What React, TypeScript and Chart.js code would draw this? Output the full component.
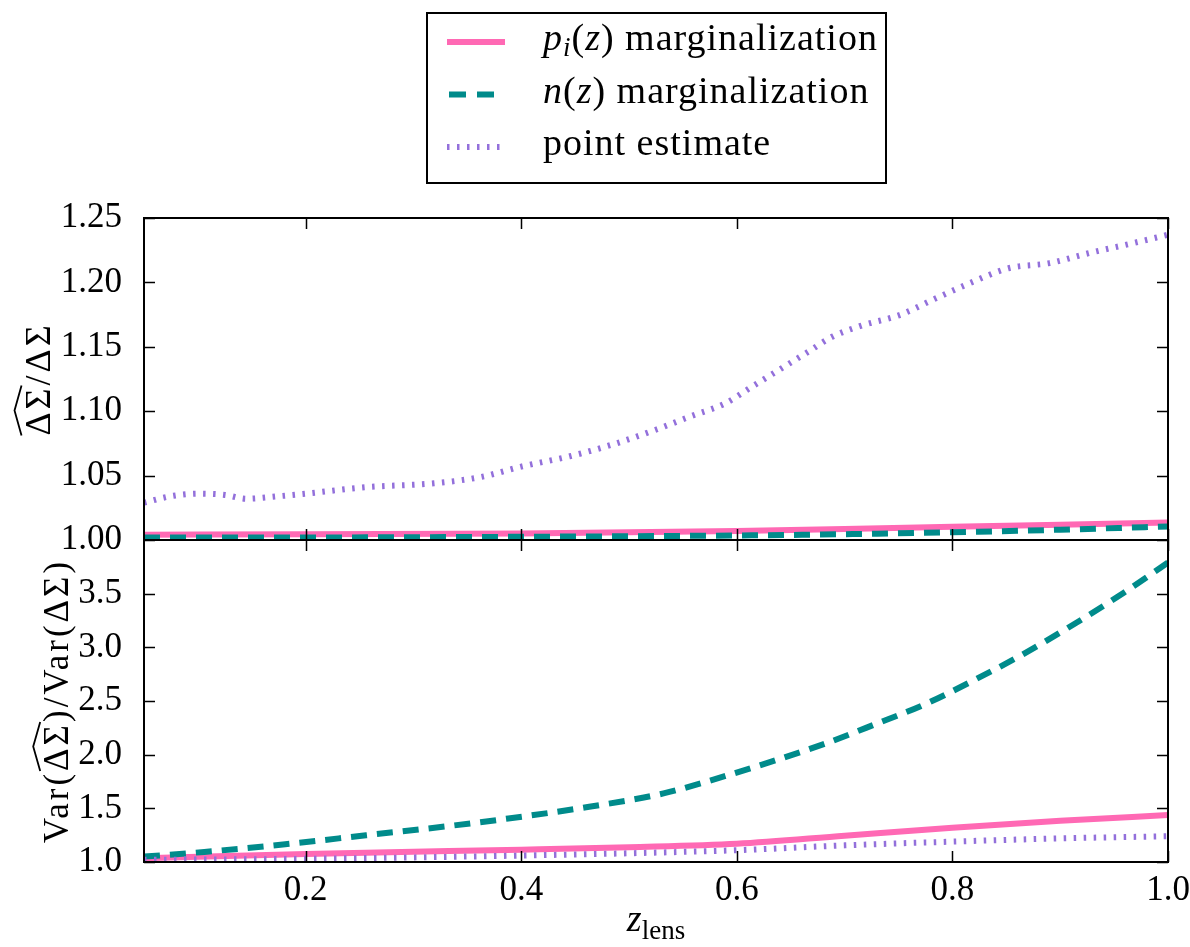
import React, { useEffect, useRef } from 'react';
import { Chart, registerables } from 'chart.js';

Chart.register(...registerables);

// ---------- data ----------
const X_TICKS = [0.2, 0.4, 0.6, 0.8, 1.0];
const TOP_Y_TICKS = [1.0, 1.05, 1.1, 1.15, 1.2, 1.25];
const BOTTOM_Y_TICKS = [1.0, 1.5, 2.0, 2.5, 3.0, 3.5];

// top panel: point estimate (dotted)
const TOP_POINT_Z = [0.05, 0.075, 0.1, 0.125, 0.145, 0.175, 0.2, 0.256, 0.319, 0.363, 0.4, 0.445, 0.488, 0.526, 0.557, 0.589, 0.614, 0.639, 0.664, 0.689, 0.714, 0.752, 0.783, 0.815, 0.852, 0.89, 0.928, 0.965, 1.0];
const TOP_POINT_RATIO = [1.029, 1.034, 1.036, 1.035, 1.032, 1.034, 1.036, 1.041, 1.044, 1.049, 1.057, 1.065, 1.075, 1.086, 1.096, 1.106, 1.119, 1.132, 1.145, 1.158, 1.166, 1.175, 1.187, 1.199, 1.211, 1.215, 1.223, 1.23, 1.237];
// top panel: marginalizations
const TOP_MARG_Z = [0.05, 0.2, 0.4, 0.6, 0.7, 0.8, 0.9, 1.0];
const TOP_PI_RATIO = [1.004, 1.0045, 1.005, 1.007, 1.0085, 1.0102, 1.0118, 1.0135];
const TOP_NZ_RATIO = [1.002, 1.002, 1.0025, 1.0035, 1.0045, 1.006, 1.008, 1.0105];

// bottom panel: variance ratios
const VAR_NZ_Z = [0.05, 0.106, 0.181, 0.256, 0.332, 0.388, 0.463, 0.532, 0.582, 0.632, 0.683, 0.727, 0.777, 0.821, 0.865, 0.915, 0.959, 1.0];
const VAR_NZ = [1.05, 1.094, 1.165, 1.249, 1.334, 1.405, 1.514, 1.639, 1.779, 1.935, 2.107, 2.278, 2.481, 2.699, 2.933, 3.229, 3.509, 3.79];
const VAR_PI_Z = [0.05, 0.2, 0.3, 0.4, 0.5, 0.6, 0.7, 0.8, 0.9, 1.0];
const VAR_PI = [1.035, 1.075, 1.095, 1.115, 1.138, 1.17, 1.245, 1.32, 1.385, 1.437];
const VAR_POINT_Z = [0.05, 0.2, 0.4, 0.6, 0.7, 0.8, 0.9, 1.0];
const VAR_POINT = [1.02, 1.03, 1.06, 1.11, 1.155, 1.19, 1.22, 1.24];

// ---------- styles ----------
const FONT = '"Liberation Serif", "Times New Roman", serif';
const PINK = '#ff69b4';
const GREEN = '#008b8b';
const PURPLE = '#9370db';

const pts = (zs: number[], vs: number[]) => zs.map((z, i) => ({ x: z, y: vs[i] }));

type Run = { t: string; italic?: boolean; size: number; dy?: number; hat?: boolean };

function setFont(ctx: CanvasRenderingContext2D, r: Run) {
  ctx.font = `${r.italic ? 'italic ' : ''}${r.size}px ${FONT}`;
}
function runsWidth(ctx: CanvasRenderingContext2D, runs: Run[]) {
  let w = 0;
  for (const r of runs) { setFont(ctx, r); w += ctx.measureText(r.t).width; }
  return w;
}
function drawRuns(ctx: CanvasRenderingContext2D, runs: Run[], x: number, y: number) {
  let cx = x;
  for (const r of runs) {
    setFont(ctx, r);
    const w = ctx.measureText(r.t).width;
    ctx.fillText(r.t, cx, y + (r.dy || 0));
    if (r.hat) {
      const cap = r.size * 0.68;
      ctx.save();
      ctx.lineWidth = 1.8;
      ctx.beginPath();
      ctx.moveTo(cx, y - cap - 4);
      ctx.lineTo(cx + w / 2, y - cap - 11);
      ctx.lineTo(cx + w, y - cap - 4);
      ctx.stroke();
      ctx.restore();
    }
    cx += w;
  }
  return cx;
}

const LEGEND_ROWS: { runs: Run[]; color: string; dash: number[]; width: number; x0: number; x1: number }[] = [
  {
    runs: [
      { t: 'p', italic: true, size: 38 },
      { t: 'i', italic: true, size: 27, dy: 6 },
      { t: '(', size: 38 },
      { t: 'z', italic: true, size: 38 },
      { t: ') marginalization', size: 38 },
    ],
    color: PINK, dash: [], width: 6, x0: 447, x1: 505,
  },
  {
    runs: [
      { t: 'n', italic: true, size: 38 },
      { t: '(', size: 38 },
      { t: 'z', italic: true, size: 38 },
      { t: ') marginalization', size: 38 },
    ],
    color: GREEN, dash: [17, 11], width: 6, x0: 449, x1: 494,
  },
  {
    runs: [{ t: 'point estimate', size: 38 }],
    color: PURPLE, dash: [2.5, 7.5], width: 6, x0: 447, x1: 507,
  },
];

const decorPlugin = {
  id: 'decor',
  afterDraw(chart: any) {
    const ctx: CanvasRenderingContext2D = chart.ctx;
    const xs = chart.scales.x;
    const yT = chart.scales.yTop;
    const yB = chart.scales.yBottom;
    const L = chart.chartArea.left;
    const R = chart.chartArea.right;
    const TL = 11;
    ctx.save();
    ctx.strokeStyle = '#000';
    ctx.fillStyle = '#000';

    // inward ticks
    ctx.lineWidth = 1.5;
    const panels = [
      { s: yT, ticks: TOP_Y_TICKS },
      { s: yB, ticks: BOTTOM_Y_TICKS },
    ];
    for (const p of panels) {
      const top = p.s.top;
      const bot = p.s.bottom;
      ctx.beginPath();
      for (const v of X_TICKS) {
        const px = Math.round(xs.getPixelForValue(v)) + 0.5;
        ctx.moveTo(px, top); ctx.lineTo(px, top + TL);
        ctx.moveTo(px, bot); ctx.lineTo(px, bot - TL);
      }
      for (const v of p.ticks) {
        const py = Math.round(p.s.getPixelForValue(v)) + 0.5;
        ctx.moveTo(L, py); ctx.lineTo(L + TL, py);
        ctx.moveTo(R, py); ctx.lineTo(R - TL, py);
      }
      ctx.stroke();
    }
    // frames
    ctx.lineWidth = 2;
    for (const p of panels) {
      ctx.strokeRect(L, p.s.top, R - L, p.s.bottom - p.s.top);
    }

    // y titles
    ctx.letterSpacing = '3px';
    const yTitles: { s: any; base: number; runs: Run[] }[] = [
      { s: yT, base: 50, runs: [{ t: 'ΔΣ', size: 36, hat: true }, { t: '/ΔΣ', size: 36 }] },
      {
        s: yB, base: 68, runs: [
          { t: 'Var(', size: 35 }, { t: 'ΔΣ', size: 35, hat: true }, { t: ')/Var(ΔΣ)', size: 35 },
        ],
      },
    ];
    ctx.textAlign = 'left';
    ctx.textBaseline = 'alphabetic';
    for (const yt of yTitles) {
      const cy = (yt.s.top + yt.s.bottom) / 2;
      ctx.save();
      ctx.translate(yt.base, cy);
      ctx.rotate(-Math.PI / 2);
      const w = runsWidth(ctx, yt.runs);
      drawRuns(ctx, yt.runs, -w / 2, 0);
      ctx.restore();
    }
    ctx.letterSpacing = '0px';

    // x title
    const xRuns: Run[] = [{ t: 'z', italic: true, size: 38 }, { t: 'lens', size: 27, dy: 8 }];
    const xw = runsWidth(ctx, xRuns);
    drawRuns(ctx, xRuns, (L + R) / 2 - xw / 2, 931);

    // legend
    ctx.lineWidth = 2;
    ctx.strokeRect(427, 13, 459, 170);
    ctx.letterSpacing = '1px';
    LEGEND_ROWS.forEach((row, i) => {
      const cy = 42 + i * 52.5;
      ctx.save();
      ctx.strokeStyle = row.color;
      ctx.lineWidth = row.width;
      ctx.lineCap = 'butt';
      ctx.setLineDash(row.dash);
      ctx.beginPath();
      ctx.moveTo(row.x0, cy);
      ctx.lineTo(row.x1, cy);
      ctx.stroke();
      ctx.restore();
      drawRuns(ctx, row.runs, 543, cy + 8);
    });
    ctx.letterSpacing = '0px';
    ctx.restore();
  },
};

const tickFont = { family: FONT, size: 35 };

export default function App() {
  const ref = useRef<HTMLCanvasElement>(null);
  useEffect(() => {
    document.body.style.margin = '0';
    const canvas = ref.current!;
    const line = { pointRadius: 0, fill: false, borderCapStyle: 'butt' as const, cubicInterpolationMode: 'monotone' as const };
    const chart = new Chart(canvas, {
      type: 'line',
      data: {
        datasets: [
          { label: 'point estimate', data: pts(TOP_POINT_Z, TOP_POINT_RATIO), yAxisID: 'yTop', borderColor: PURPLE, borderWidth: 6, borderDash: [2.5, 7.5], ...line },
          { label: 'point estimate', data: pts(VAR_POINT_Z, VAR_POINT), yAxisID: 'yBottom', borderColor: PURPLE, borderWidth: 6, borderDash: [2.5, 7.5], ...line },
          { label: 'n(z) marginalization', data: pts(TOP_MARG_Z, TOP_NZ_RATIO), yAxisID: 'yTop', borderColor: GREEN, borderWidth: 6, borderDash: [16, 10], ...line },
          { label: 'n(z) marginalization', data: pts(VAR_NZ_Z, VAR_NZ), yAxisID: 'yBottom', borderColor: GREEN, borderWidth: 6, borderDash: [16, 10], ...line },
          { label: 'p_i(z) marginalization', data: pts(TOP_MARG_Z, TOP_PI_RATIO), yAxisID: 'yTop', borderColor: PINK, borderWidth: 6, ...line },
          { label: 'p_i(z) marginalization', data: pts(VAR_PI_Z, VAR_PI), yAxisID: 'yBottom', borderColor: PINK, borderWidth: 6, ...line },
        ],
      },
      options: {
        animation: false,
        responsive: false,
        devicePixelRatio: 1,
        events: [],
        layout: { padding: { top: 218, right: 22, left: 0, bottom: 0 } },
        plugins: { legend: { display: false }, tooltip: { enabled: false }, title: { display: false } },
        scales: {
          x: {
            type: 'linear', position: 'bottom', min: 0.05, max: 1.0,
            afterBuildTicks: (s: any) => { s.ticks = X_TICKS.map((v) => ({ value: v })); },
            afterFit: (s: any) => { s.height = 85; },
            grid: { display: false }, border: { display: false },
            ticks: { font: tickFont, color: '#000', padding: 0, maxRotation: 0, autoSkip: false, callback: (v: any) => Number(v).toFixed(1) },
          },
          yBottom: {
            type: 'linear', position: 'left', stack: 'panels', stackWeight: 1, min: 1.0, max: 4.0,
            afterBuildTicks: (s: any) => { s.ticks = BOTTOM_Y_TICKS.map((v) => ({ value: v })); },
            afterFit: (s: any) => { s.width = 144; },
            grid: { display: false }, border: { display: false },
            ticks: { font: tickFont, color: '#000', padding: 14, autoSkip: false, callback: (v: any) => Number(v).toFixed(1) },
          },
          yTop: {
            type: 'linear', position: 'left', stack: 'panels', stackWeight: 1, min: 1.0, max: 1.25,
            afterBuildTicks: (s: any) => { s.ticks = TOP_Y_TICKS.map((v) => ({ value: v })); },
            afterFit: (s: any) => { s.width = 144; },
            grid: { display: false }, border: { display: false },
            ticks: { font: tickFont, color: '#000', padding: 14, autoSkip: false, callback: (v: any) => Number(v).toFixed(2) },
          },
        },
      } as any,
      plugins: [decorPlugin],
    });
    return () => chart.destroy();
  }, []);
  return (
    <div style={{ width: 1190, height: 947, background: '#fff' }}>
      <canvas ref={ref} width={1190} height={947} style={{ display: 'block' }} />
    </div>
  );
}
